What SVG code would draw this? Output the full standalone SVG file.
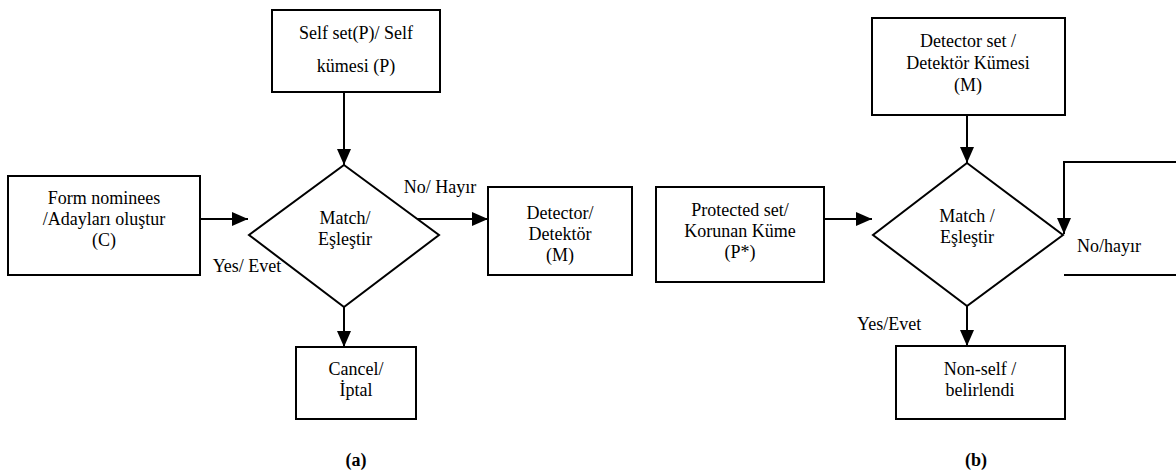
<svg xmlns="http://www.w3.org/2000/svg" width="1176" height="472" viewBox="0 0 1176 472">
<style>
text{font-family:"Liberation Serif","Times New Roman",serif;font-size:18px;fill:#000}
.c{text-anchor:middle}
.b{font-weight:bold}
.box{fill:#fff;stroke:#000;stroke-width:2}
.dia{fill:#fff;stroke:#000;stroke-width:2;stroke-linejoin:miter}
.ln{fill:none;stroke:#000;stroke-width:2}
</style>
<defs>
<marker id="ah" markerUnits="userSpaceOnUse" markerWidth="16" markerHeight="14" refX="16" refY="7" orient="auto" viewBox="0 0 16 14">
<path d="M0,0 L16,7 L0,14 z" fill="#000"/>
</marker>
</defs>
<rect width="1176" height="472" fill="#fff"/>
<g id="connectors">
<line class="ln" x1="344" y1="92" x2="344" y2="165" marker-end="url(#ah)"/>
<line class="ln" x1="200" y1="219" x2="248" y2="219" marker-end="url(#ah)"/>
<line class="ln" x1="417" y1="219" x2="488" y2="219" marker-end="url(#ah)"/>
<line class="ln" x1="344" y1="307" x2="344" y2="347" marker-end="url(#ah)"/>
<line class="ln" x1="967" y1="115" x2="967" y2="163" marker-end="url(#ah)"/>
<line class="ln" x1="824" y1="219" x2="872" y2="219" marker-end="url(#ah)"/>
<path class="ln" d="M1176,162 H1064 V234" marker-end="url(#ah)"/>
<line class="ln" x1="1064" y1="275" x2="1176" y2="275"/>
<line class="ln" x1="967" y1="306" x2="967" y2="346" marker-end="url(#ah)"/>
<text class="c" x="440" y="193">No/ Hayır</text>
<text class="c" x="247" y="272">Yes/ Evet</text>
<text x="1077" y="252">No/hayır</text>
<text x="857" y="330">Yes/Evet</text>
</g>
<g id="selfset">
<rect class="box" x="272" y="10" width="168" height="82"/>
<text class="c" x="356" y="39">Self set(P)/ Self</text>
<text class="c" x="356" y="72">kümesi (P)</text>
</g>
<g id="form">
<rect class="box" x="8" y="176" width="192" height="99"/>
<text class="c" x="104" y="204">Form nominees</text>
<text class="c" x="104" y="225">/Adayları oluştur</text>
<text class="c" x="104" y="246">(C)</text>
</g>
<g id="match-a">
<polygon class="dia" points="344,165 439,235 344,307 249,235"/>
<text class="c" x="345" y="224">Match/</text>
<text class="c" x="345" y="245">Eşleştir</text>
</g>
<g id="detector">
<rect class="box" x="488" y="187" width="144" height="88"/>
<text class="c" x="560" y="219">Detector/</text>
<text class="c" x="560" y="240">Detektör</text>
<text class="c" x="560" y="261">(M)</text>
</g>
<g id="cancel">
<rect class="box" x="296" y="347" width="120" height="72"/>
<text class="c" x="356" y="375">Cancel/</text>
<text class="c" x="356" y="396">İptal</text>
</g>
<g id="detectorset">
<rect class="box" x="872" y="18" width="193" height="97"/>
<text class="c" x="968" y="47">Detector set /</text>
<text class="c" x="968" y="69">Detektör Kümesi</text>
<text class="c" x="968" y="91">(M)</text>
</g>
<g id="protected">
<rect class="box" x="656" y="187" width="168" height="95"/>
<text class="c" x="740" y="216">Protected set/</text>
<text class="c" x="740" y="237">Korunan Küme</text>
<text class="c" x="740" y="258">(P*)</text>
</g>
<g id="match-b">
<polygon class="dia" points="967,163 1063,235 967,306 873,235"/>
<text class="c" x="967" y="222">Match /</text>
<text class="c" x="967" y="243">Eşleştir</text>
</g>
<g id="nonself">
<rect class="box" x="896" y="346" width="169" height="73"/>
<text class="c" x="980" y="375">Non-self /</text>
<text class="c" x="980" y="396">belirlendi</text>
</g>
<g id="captions">
<text class="c b" x="356" y="466">(a)</text>
<text class="c b" x="976" y="466">(b)</text>
</g>
</svg>
